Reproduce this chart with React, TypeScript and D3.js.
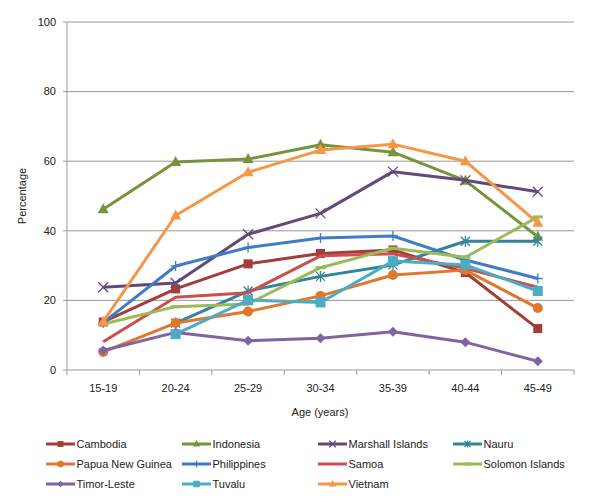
import React from "react";
import * as d3 from "d3";

const categories = ["15-19", "20-24", "25-29", "30-34", "35-39", "40-44", "45-49"];
const yTicks = [0, 20, 40, 60, 80, 100];

const cambodia = [13.8, 23.3, 30.5, 33.5, 34.5, 28.0, 11.9];
const indonesia = [46.2, 59.8, 60.6, 64.7, 62.6, 54.4, 38.3];
const marshall = [23.8, 25.0, 39.0, 45.0, 57.0, 54.5, 51.2];
const nauru = [null, 13.5, 22.7, 26.9, 30.2, 37.0, 37.0];
const png = [5.2, 13.5, 16.8, 21.3, 27.3, 28.7, 17.8];
const philippines = [13.6, 29.9, 35.2, 37.9, 38.5, 31.6, 26.3];
const samoa = [8.1, 20.9, 22.2, 32.8, 33.4, 29.2, 23.8];
const solomon = [13.2, 18.2, 19.0, 29.4, 35.0, 32.4, 44.0];
const timor = [5.6, 10.8, 8.4, 9.1, 11.0, 8.0, 2.5];
const tuvalu = [null, 10.3, 20.1, 19.4, 31.3, 30.2, 22.7];
const vietnam = [13.9, 44.4, 56.8, 63.2, 64.9, 60.0, 42.3];

const seriesNames = [
  "Cambodia", "Indonesia", "Marshall Islands", "Nauru",
  "Papua New Guinea", "Philippines", "Samoa", "Solomon Islands",
  "Timor-Leste", "Tuvalu", "Vietnam",
];
const seriesValues = [cambodia, indonesia, marshall, nauru, png, philippines, samoa, solomon, timor, tuvalu, vietnam];
const seriesColors = [
  "#A23D3A", "#77933C", "#604A7B", "#31849B", "#E0772C", "#3F7CC6",
  "#C8504D", "#9BBB59", "#8064A2", "#4BACC6", "#F79646",
];
const seriesMarkers = [
  "square", "triangle", "x", "asterisk", "circle", "plus",
  "none", "dash", "diamond", "bigsquare", "triangle",
];

const W = 600, H = 502;
const plotLeft = 67, plotRight = 574, plotTop = 22, plotBottom = 370;

function Marker({ type, x, y, color, scale = 1 }: { type: string; x: number; y: number; color: string; scale?: number }) {
  const s = scale;
  switch (type) {
    case "square":
      return <rect x={x - 4.5 * s} y={y - 4.5 * s} width={9 * s} height={9 * s} fill={color} />;
    case "bigsquare":
      return <rect x={x - 5 * s} y={y - 5 * s} width={10 * s} height={10 * s} fill={color} />;
    case "triangle":
      return <path d={`M${x},${y - 6 * s}L${x + 5.5 * s},${y + 4 * s}L${x - 5.5 * s},${y + 4 * s}Z`} fill={color} />;
    case "circle":
      return <circle cx={x} cy={y} r={5 * s} fill={color} />;
    case "diamond":
      return <path d={`M${x},${y - 5 * s}L${x + 5 * s},${y}L${x},${y + 5 * s}L${x - 5 * s},${y}Z`} fill={color} />;
    case "x":
      return <path d={`M${x - 5 * s},${y - 5 * s}L${x + 5 * s},${y + 5 * s}M${x + 5 * s},${y - 5 * s}L${x - 5 * s},${y + 5 * s}`} stroke={color} strokeWidth={1.3} fill="none" />;
    case "asterisk":
      return <path d={`M${x - 4.5 * s},${y - 4.5 * s}L${x + 4.5 * s},${y + 4.5 * s}M${x + 4.5 * s},${y - 4.5 * s}L${x - 4.5 * s},${y + 4.5 * s}M${x},${y - 5.5 * s}L${x},${y + 5.5 * s}`} stroke={color} strokeWidth={1.3} fill="none" />;
    case "plus":
      return <path d={`M${x - 5 * s},${y}L${x + 5 * s},${y}M${x},${y - 5 * s}L${x},${y + 5 * s}`} stroke={color} strokeWidth={1.3} fill="none" />;
    case "dash":
      return <path d={`M${x - 5 * s},${y}L${x + 5 * s},${y}`} stroke={color} strokeWidth={3} fill="none" />;
    default:
      return null;
  }
}

export default function App() {
  const x = d3.scaleBand<string>().domain(categories).range([plotLeft, plotRight]);
  const y = d3.scaleLinear().domain([0, 100]).range([plotBottom, plotTop]);
  const cx = (c: string) => (x(c) as number) + x.bandwidth() / 2;
  const line = d3
    .line<{ c: string; v: number | null }>()
    .defined((d) => d.v != null)
    .x((d) => cx(d.c))
    .y((d) => y(d.v as number));

  const boundaries = categories.map((c) => x(c) as number).concat([plotRight]);
  const font = "'Liberation Sans', Arial, sans-serif";

  const legendCols = [46, 182, 318, 453];
  const legendRows = [444, 464, 484];

  return (
    <svg width={W} height={H} style={{ position: "absolute", left: 0, top: 0 }} fontFamily={font}>
      <rect x={0} y={0} width={W} height={H} fill="#fff" />
      {yTicks.map((t) => (
        <g key={t}>
          {t > 0 && <line x1={plotLeft} x2={plotRight} y1={y(t)} y2={y(t)} stroke="#999" strokeWidth={1} />}
          <line x1={plotLeft - 4} x2={plotLeft} y1={y(t)} y2={y(t)} stroke="#999" />
          <text x={56} y={y(t)} dy="0.35em" textAnchor="end" fontSize={11} fill="#222">{t}</text>
        </g>
      ))}
      <line x1={plotLeft} x2={plotLeft} y1={plotTop} y2={plotBottom} stroke="#999" />
      <line x1={plotLeft} x2={plotRight} y1={plotBottom} y2={plotBottom} stroke="#999" />
      {boundaries.map((b, i) => (
        <line key={i} x1={b} x2={b} y1={plotBottom} y2={plotBottom + 5} stroke="#999" />
      ))}
      {categories.map((c) => (
        <text key={c} x={cx(c)} y={392} textAnchor="middle" fontSize={11} fill="#222">{c}</text>
      ))}
      <text x={320} y={416} textAnchor="middle" fontSize={11} fill="#222">Age (years)</text>
      <text transform={`translate(26,${(plotTop + plotBottom) / 2}) rotate(-90)`} textAnchor="middle" fontSize={11} fill="#222">Percentage</text>

      {seriesValues.map((vals, si) => {
        const data = categories.map((c, i) => ({ c, v: vals[i] as number | null }));
        return (
          <g key={seriesNames[si]}>
            <path d={line(data) || ""} fill="none" stroke={seriesColors[si]} strokeWidth={3} strokeLinejoin="round" />
            {data.filter((d) => d.v != null).map((d) => (
              <Marker key={d.c} type={seriesMarkers[si]} x={cx(d.c)} y={y(d.v as number)} color={seriesColors[si]} />
            ))}
          </g>
        );
      })}

      {seriesNames.map((name, i) => {
        const lx = legendCols[i % 4];
        const ly = legendRows[Math.floor(i / 4)];
        return (
          <g key={name}>
            <line x1={lx} x2={lx + 29} y1={ly} y2={ly} stroke={seriesColors[i]} strokeWidth={3} />
            <Marker type={seriesMarkers[i]} x={lx + 14.5} y={ly} color={seriesColors[i]} scale={0.65} />
            <text x={lx + 30.5} y={ly} dy="0.35em" fontSize={11} fill="#222">{name}</text>
          </g>
        );
      })}
    </svg>
  );
}
